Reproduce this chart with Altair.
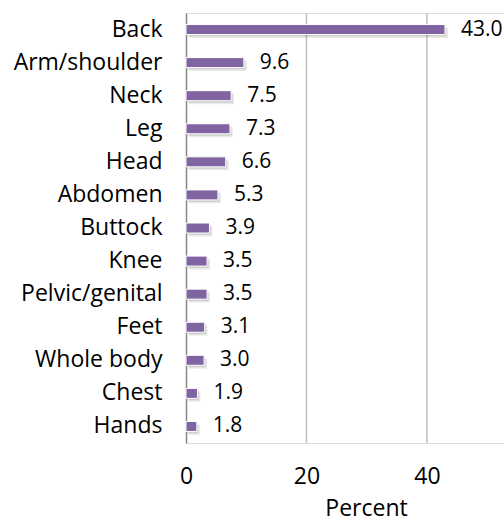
import altair as alt
import pandas as pd

# Body regions and share of respondents reporting pain there (percent)
regions = ["Back", "Arm/shoulder", "Neck", "Leg", "Head", "Abdomen", "Buttock",
           "Knee", "Pelvic/genital", "Feet", "Whole body", "Chest", "Hands"]
percent = [43.0, 9.6, 7.5, 7.3, 6.6, 5.3, 3.9, 3.5, 3.5, 3.1, 3.0, 1.9, 1.8]
x_ticks = [0, 20, 40]
grid_values = [20, 40]

df = pd.DataFrame({"region": regions, "percent": percent})
df["label"] = df["percent"].map(lambda v: f"{v:.1f}")

FONT = "Open Sans"
FS = 23
VALUE_FS = 21
PURPLE = "#8064A2"

x_scale = alt.Scale(domain=[0, 52.8], nice=False, zero=True)

x_axis = alt.Axis(values=x_ticks, title="Percent", grid=False,
                  domain=False, ticks=False, labelPadding=22, labelFlush=False,
                  labelFont=FONT, labelFontSize=FS, labelColor="#000000",
                  titleFont=FONT, titleFontSize=FS, titleFontWeight="normal",
                  titleColor="#000000", titleX=180, titleY=72,
                  titleBaseline="alphabetic")

y_axis = alt.Axis(title=None, ticks=False, labelPadding=24,
                  labelFont=FONT, labelFontSize=FS, labelColor="#000000",
                  domainColor="#868686", domainWidth=1.5, grid=False)

base = alt.Chart(df).encode(
    y=alt.Y("region:N", sort=regions,
            scale=alt.Scale(paddingInner=0.0, paddingOuter=0.0),
            axis=y_axis),
)
x_enc = alt.X("percent:Q", scale=x_scale, axis=x_axis)

# vertical gridlines at 20 and 40
grid = alt.Chart(pd.DataFrame({"g": grid_values})).mark_rule(
    color="#BFBFBF", strokeWidth=1.5
).encode(x=alt.X("g:Q", scale=x_scale, axis=x_axis),
         y=alt.value(0), y2=alt.value(430))

# soft drop shadow under each bar, then the bar itself
shadow_far = base.mark_bar(size=10, color="#000000", opacity=0.08,
                           xOffset=3, yOffset=3.5).encode(x=x_enc)
shadow_near = base.mark_bar(size=10, color="#000000", opacity=0.12,
                            xOffset=1.5, yOffset=2).encode(x=x_enc)
bars = base.mark_bar(size=10, color=PURPLE, stroke="#FFFFFF",
                     strokeWidth=1).encode(x=x_enc)
labels = base.mark_text(align="left", baseline="middle", dx=16, font=FONT,
                        fontSize=VALUE_FS, color="#000000").encode(
    x=x_enc, text="label:N")

chart = alt.layer(grid, shadow_far, shadow_near, bars, labels).properties(
    width=318, height=430,
    autosize=alt.AutoSizeParams(type="none"),
    padding={"left": 186, "top": 13, "right": 0, "bottom": 81},
).configure_view(stroke=None).configure(background="#FFFFFF")

chart.save("out.html", embed_options={"renderer": "svg", "actions": False})
